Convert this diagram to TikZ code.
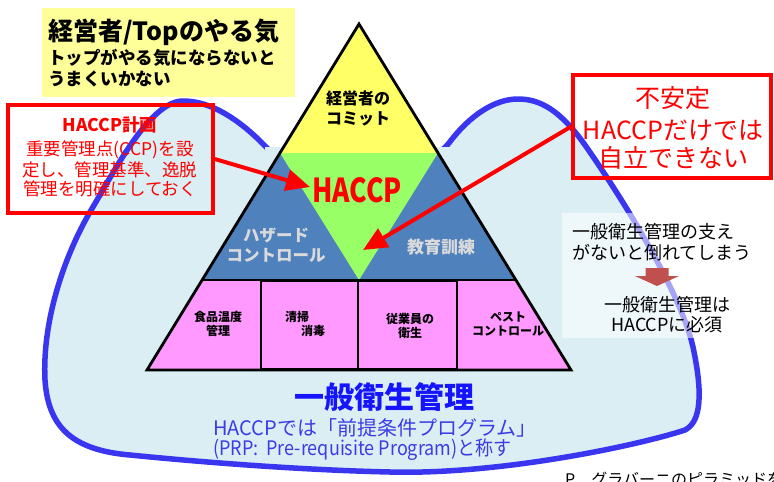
\documentclass[tikz,border=0pt]{standalone}
\usepackage{fontspec}
\setmainfont{Noto Sans CJK JP}
\usepackage{graphicx}
\usetikzlibrary{arrows.meta}
\definecolor{blobfill}{HTML}{DAEEF3}
\definecolor{blobline}{HTML}{3A36F0}
\definecolor{tyellow}{HTML}{FFFF66}
\definecolor{tgreen}{HTML}{99FF66}
\definecolor{tblue}{HTML}{4F81BD}
\definecolor{tpink}{HTML}{FF99FF}
\definecolor{noteyellow}{HTML}{FFFF99}
\definecolor{lgray}{HTML}{DADADA}
\definecolor{darkred}{HTML}{C0504D}
\definecolor{textblue}{HTML}{1414FF}
\definecolor{textblue2}{HTML}{3C3CE6}
\newcommand{\fsz}[2]{\fontsize{#1}{#2}\selectfont}
\tikzset{
  txt/.style={inner sep=0pt, align=center},
  redbox/.style={draw=red, line width=3.5pt, inner sep=0pt},
  redarrow/.style={draw=red, line width=4pt, -{Triangle[length=24pt,width=21pt]}},
  celltxt/.style={inner sep=0pt, align=center, font=\fsz{12}{13.5}\bfseries},
  midtxt/.style={inner sep=0pt, align=center, text=lgray, font=\bfseries}
}
\begin{document}
\begin{tikzpicture}[x=1pt,y=-1pt]
\useasboundingbox (0,0) rectangle (774,482);
% blob
\draw[blobline, line width=5.5pt, fill=blobfill]
 (183,101) .. controls (215,101) and (245,125) .. (267,148)
 .. controls (300,190) and (410,190) .. (449,143)
 .. controls (470,115) and (495,99) .. (518,99)
 .. controls (540,99) and (560,110) .. (585,145)
 .. controls (620,195) and (680,290) .. (693,347)
 .. controls (700,380) and (705,420) .. (685,430)
 .. controls (640,445) and (500,475) .. (390,472)
 .. controls (300,470) and (200,462) .. (130,455)
 .. controls (70,450) and (48,425) .. (45,380)
 .. controls (42,320) and (65,255) .. (90,212)
 .. controls (115,170) and (150,101) .. (183,101) -- cycle;
\fill[blobfill] (265,147) rectangle (449,380);
% pyramid
\coordinate (A) at (359,24);
\coordinate (BL) at (147,370);
\coordinate (BR) at (571,370);
\fill[tyellow] (A) -- (280,153) -- (438,153) -- cycle;
\fill[tblue] (280,153) -- (202,280) -- (516,280) -- (438,153) -- cycle;
\fill[tgreen] (280,153) -- (438,153) -- (359,280) -- cycle;
\fill[tpink] (202,280) -- (BL) -- (BR) -- (516,280) -- cycle;
\draw[line width=1.3pt] (261,281) rectangle (358,369);
\draw[line width=1.3pt] (358,281) rectangle (457,369);
\draw[line width=2.8pt] (202,280) -- (516,280);
\draw[line width=2.8pt, line join=miter] (A) -- (BL) -- (BR) -- cycle;
% pyramid texts
\node[txt, font=\fsz{16}{20}\bfseries] (commit) at (358,108) {経営者の\\コミット};
\node[txt, text=red, font=\fsz{33}{33}\bfseries] (haccp) at (357,190) {\scalebox{0.8}[1]{HACCP}};
\node[midtxt, font=\fsz{16.5}{20}\bfseries] (hazard) at (276,245) {ハザード\\コントロール};
\node[midtxt, font=\fsz{17}{20}\bfseries] (edu) at (441,247) {教育訓練};
\node[celltxt] (c1) at (218,324) {食品温度\\管理};
\node[celltxt, align=left, anchor=west] (c2) at (285,324) {清掃\\\hspace*{16pt}消毒};
\node[celltxt] (c3) at (410,326) {従業員の\\衛生};
\node[celltxt] (c4) at (508,324) {ペスト\\コントロール};
% top-left note
\node[fill=noteyellow, inner sep=0pt, minimum width=253pt, minimum height=89pt, anchor=north west] (note) at (42,8) {};
\node[inner sep=0pt, anchor=west, font=\fsz{25}{25}\bfseries] (n1) at (48,32) {経営者/Topのやる気};
\node[inner sep=0pt, anchor=west, font=\fsz{17.5}{17.5}\bfseries] (n2) at (48,58) {トップがやる気にならないと};
\node[inner sep=0pt, anchor=west, font=\fsz{17.5}{17.5}\bfseries] (n3) at (48,79) {うまくいかない};
% left red box
\node[redbox, minimum width=205pt, minimum height=108pt] (lbox) at (110.5,159) {};
\node[txt, text=red, font=\fsz{17.5}{17.5}\bfseries] (l1) at (110,125) {HACCP計画};
\node[txt, text=red, font=\fsz{17.5}{17.5}] (l2) at (110,150) {重要管理点(CCP)を設};
\node[txt, text=red, font=\fsz{17.5}{17.5}] (l3) at (110,170) {定し、管理基準、逸脱};
\node[txt, text=red, font=\fsz{17.5}{17.5}] (l4) at (110,189) {管理を明確にしておく};
% right red box
\node[redbox, minimum width=198pt, minimum height=103pt] (rbox) at (672,126.5) {};
\node[txt, text=red, font=\fsz{25}{25}] (r1) at (673,98) {不安定};
\node[txt, text=red, font=\fsz{25}{25}] (r2) at (673,130) {HACCPだけでは};
\node[txt, text=red, font=\fsz{25}{25}] (r3) at (673,158) {自立できない};
% arrows
\coordinate (lt) at (310,187);
\coordinate (rt) at (363,250);
\draw[redarrow] (lbox.east) -- (lt);
\draw[redarrow] (rbox.west) -- (rt);
% gray note
\node[fill=white, fill opacity=0.55, inner sep=0pt, minimum width=210pt, minimum height=125pt, anchor=north west] (gbox) at (562,213) {};
\node[inner sep=0pt, anchor=west, font=\fsz{18}{18}] (g1) at (572,232) {一般衛生管理の支え};
\node[inner sep=0pt, anchor=west, font=\fsz{18}{18}] (g2) at (572,253) {がないと倒れてしまう};
\fill[darkred] (645.5,268) -- (668.5,268) -- (668.5,276) -- (679,276) -- (657,286) -- (635,276) -- (645.5,276) -- cycle;
\node[txt, font=\fsz{18}{18}] (g3) at (667,305) {一般衛生管理は};
\node[txt, font=\fsz{18}{18}] (g4) at (667,325) {HACCPに必須};
% bottom texts
\node[txt, text=textblue, font=\fsz{30}{30}\bfseries] (b1) at (384,397) {一般衛生管理};
\node[inner sep=0pt, anchor=west, text=textblue2, font=\fsz{20}{20}] (b2) at (213,428) {HACCPでは「前提条件プログラム」};
\node[inner sep=0pt, anchor=west, text=textblue2, font=\fsz{20}{20}] (b3) at (213,450) {\scalebox{0.9}[1]{(PRP:\ \ Pre-requisite Program)と称す}};
\node[inner sep=0pt, anchor=west, font=\fsz{16}{16}] (credit) at (565,479) {P．グラバーニのピラミッドを加工};
\end{tikzpicture}
\end{document}
